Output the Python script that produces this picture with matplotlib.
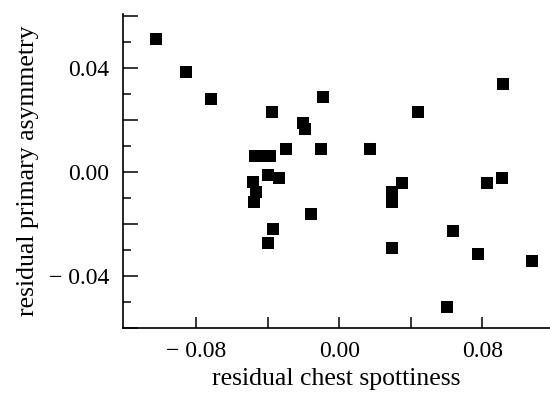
import matplotlib
matplotlib.use("Agg")
import matplotlib.pyplot as plt
from matplotlib.ticker import FixedLocator, FixedFormatter, MultipleLocator

# residual chest spottiness (x) and residual primary asymmetry (y)
spottiness = [-0.1027, -0.0859, -0.0721, -0.0094, -0.0379, -0.0203, -0.0190,
              -0.0299, -0.0105, 0.0171,
              -0.0473, -0.0433, -0.0389,
              -0.0401, -0.0339,
              -0.0483, -0.0466, -0.0477,
              -0.0159, -0.0370, -0.0402,
              0.0916, 0.0441, 0.0348, 0.0292, 0.0292,
              0.0824, 0.0911, 0.0633, 0.0295, 0.0773, 0.1079, 0.0603]
asymmetry = [0.0512, 0.0386, 0.0280, 0.0290, 0.0230, 0.0190, 0.0165,
             0.0088, 0.0088, 0.0088,
             0.0063, 0.0063, 0.0063,
             -0.0012, -0.0023,
             -0.0040, -0.0076, -0.0115,
             -0.0163, -0.0219, -0.0274,
             0.0337, 0.0230, -0.0041, -0.0076, -0.0114,
             -0.0041, -0.0022, -0.0226, -0.0291, -0.0315, -0.0341, -0.0518]

x_ticks = [-0.08, -0.04, 0.00, 0.04, 0.08]
x_tick_labels = ["\u2212 0.08", "", "0.00", "", "0.08"]
y_ticks = [-0.06, -0.04, -0.02, 0.00, 0.02, 0.04, 0.06]
y_tick_labels = ["", "\u2212 0.04", "", "0.00", "", "0.04", ""]

plt.rcParams['font.family'] = ['Liberation Serif', 'DejaVu Serif']

fig = plt.figure(figsize=(5.5, 3.96), dpi=100)
ax = fig.add_axes([0.2236, 0.1717, 0.7764, 0.7929])

ax.plot(spottiness, asymmetry, linestyle='none', marker='s', markersize=8.6,
        color='black', markeredgewidth=0)

ax.set_xlim(-0.1211, 0.1178)
ax.set_ylim(-0.060, 0.0608)

for s in ['top', 'right']:
    ax.spines[s].set_visible(False)
for s in ['left', 'bottom']:
    ax.spines[s].set_linewidth(1.2)

ax.xaxis.set_major_locator(FixedLocator(x_ticks))
ax.xaxis.set_major_formatter(FixedFormatter(x_tick_labels))
ax.yaxis.set_major_locator(FixedLocator(y_ticks))
ax.yaxis.set_major_formatter(FixedFormatter(y_tick_labels))
ax.yaxis.set_minor_locator(MultipleLocator(0.01))

ax.tick_params(axis='x', which='major', direction='in', length=8, width=1.1,
               labelsize=17, pad=9)
ax.tick_params(axis='y', which='major', direction='in', length=11, width=1.1,
               labelsize=17, pad=10)
ax.tick_params(axis='y', which='minor', direction='in', length=6, width=1.1)

ax.set_xlabel("residual chest spottiness", fontsize=18.5, labelpad=5)
ax.set_ylabel("residual primary asymmetry", fontsize=18.5, labelpad=7)

fig.savefig("out.png", dpi=100)
